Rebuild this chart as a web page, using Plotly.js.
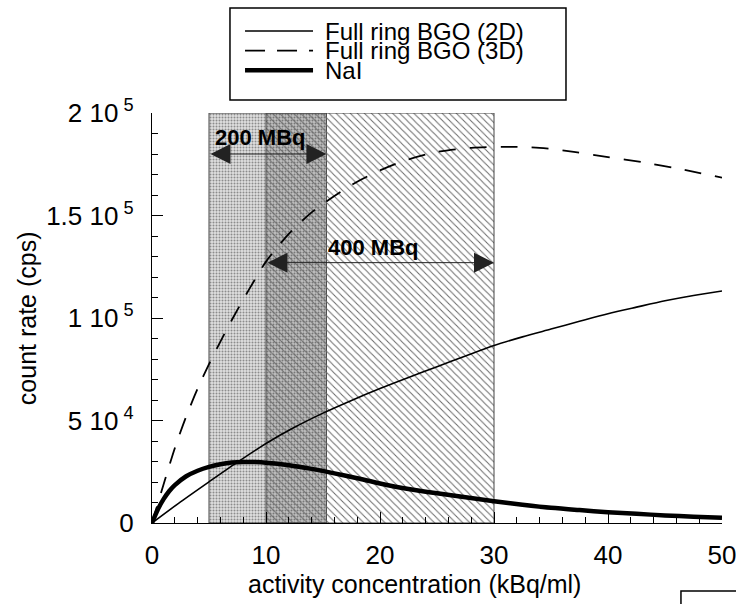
<!DOCTYPE html>
<html>
<head>
<meta charset="utf-8">
<script src="https://cdn.plot.ly/plotly-3.0.1.min.js"></script>
<style>html,body{margin:0;padding:0;background:#fff;}#chart{width:736px;height:604px;}</style>
</head>
<body>
<div id="chart"></div>
<script>
// ---- data ----
var seriesNames = ['Full ring BGO (2D)', 'Full ring BGO (3D)', 'NaI'];

var x2D = [0, 2.5, 5, 7.5, 10, 12.5, 15, 17.5, 20, 22.5, 25, 27.5, 30, 32.5, 35, 37.5, 40, 42.5, 45, 47.5, 50];
var y2D = [0, 10300, 20100, 29700, 38800, 46700, 53600, 59800, 65600, 71000, 76200, 81500, 86600, 90800, 94600, 98400, 102100, 105300, 108400, 111000, 113200];

var x3D = [0, 1, 2, 3, 4, 5, 6, 7, 8, 9, 10, 12, 14, 16, 18, 20, 22, 25, 28, 31, 34, 37, 40, 43, 46, 50];
var y3D = [0, 18500, 36500, 52000, 65500, 77500, 88500, 99000, 109000, 118500, 127500, 141000, 151500, 159500, 166500, 172000, 176500, 181000, 183000, 183500, 183000, 181000, 178500, 176000, 173000, 168500];

var xNaI = [0, 0.5, 1, 1.5, 2, 3, 4, 5, 6, 7, 8, 9, 10, 12, 14, 16, 18, 20, 22.5, 25, 27.5, 30, 32.5, 35, 37.5, 40, 42.5, 45, 47.5, 50];
var yNaI = [0, 6500, 11500, 15500, 18500, 22800, 25500, 27400, 28700, 29500, 29800, 29700, 29400, 28200, 26400, 24200, 21800, 19300, 16600, 14500, 12600, 10600, 8900, 7400, 6300, 5300, 4500, 3700, 3100, 2600];

var regionLabels = ['200 MBq', '400 MBq'];
var regionStart = [5, 10];
var regionEnd = [15.3, 30];

var yTickVals = [0, 50000, 100000, 150000, 200000];
var yTickText = ['0', '5 10<sup> 4</sup>', '1 10<sup> 5</sup>', '1.5 10<sup> 5</sup>', '2 10<sup> 5</sup>'];
var xTickVals = [0, 10, 20, 30, 40, 50];
var xTickText = ['0', '10', '20', '30', '40', '50'];

var xTitle = 'activity concentration (kBq/ml)';
var yTitle = 'count rate (cps)';

// ---- styles ----
var FONT = 'Liberation Sans, Arial, Helvetica, sans-serif';
var YMAX = 200000;
var lineStyles = [
  {color: '#000', width: 1.6, dash: 'solid'},
  {color: '#000', width: 1.8, dash: '17px,14px'},
  {color: '#000', width: 4.5, dash: 'solid'}
];

function rectTrace(x0, x1, extra) {
  var t = {
    type: 'scatter', mode: 'lines',
    x: [x0, x1, x1, x0, x0], y: [0, 0, YMAX, YMAX, 0],
    fill: 'toself', hoverinfo: 'skip', showlegend: false
  };
  for (var k in extra) t[k] = extra[k];
  return t;
}

var ovStart = Math.max(regionStart[0], regionStart[1]);
var ovEnd = Math.min(regionEnd[0], regionEnd[1]);

var traces = [
  rectTrace(regionStart[0], regionEnd[0], {
    fillcolor: '#d8d8d8',
    fillpattern: {shape: '.', fgcolor: '#8c8c8c', bgcolor: '#e0e0e0', size: 3, solidity: 0.35},
    line: {color: '#444', width: 1}
  }),
  rectTrace(ovStart, ovEnd, {
    fillcolor: 'rgba(0,0,0,0.14)',
    line: {color: 'rgba(0,0,0,0)', width: 0}
  }),
  rectTrace(regionStart[1], regionEnd[1], {
    fillcolor: 'rgba(0,0,0,0)',
    fillpattern: {shape: '\\', fgcolor: '#6a6a6a', bgcolor: 'rgba(255,255,255,0)', size: 5, solidity: 0.2},
    line: {color: '#444', width: 1}
  })
];

var sx = [x2D, x3D, xNaI], sy = [y2D, y3D, yNaI];
for (var i = 0; i < 3; i++) {
  traces.push({
    type: 'scatter', mode: 'lines', name: seriesNames[i],
    x: sx[i], y: sy[i],
    line: {color: lineStyles[i].color, width: lineStyles[i].width, dash: lineStyles[i].dash, shape: 'spline', smoothing: 0.8},
    showlegend: false, hoverinfo: 'skip'
  });
}

// ---- annotations ----
var arrowY = [180000, 127000];
var labelY = [188000, 134500];
var labelX = [5.35, 15.3];
var annotations = [];
for (var r = 0; r < 2; r++) {
  annotations.push({
    x: regionEnd[r], y: arrowY[r], ax: regionStart[r], ay: arrowY[r],
    xref: 'x', yref: 'y', axref: 'x', ayref: 'y',
    text: '', showarrow: true, arrowside: 'end+start',
    arrowhead: 2, startarrowhead: 2, arrowsize: 4, startarrowsize: 4,
    arrowwidth: 1, arrowcolor: '#222', standoff: 0, startstandoff: 0
  });
  annotations.push({
    x: labelX[r], y: labelY[r], xref: 'x', yref: 'y', xanchor: 'left', yanchor: 'middle',
    text: '<b>' + regionLabels[r] + '</b>', showarrow: false,
    font: {family: FONT, size: 22, color: '#000'}
  });
}
// axis titles
annotations.push({
  x: 0.4605, y: -0.148, xref: 'paper', yref: 'paper', xanchor: 'center', yanchor: 'middle',
  text: xTitle, showarrow: false, font: {family: FONT, size: 25, color: '#000'}
});
annotations.push({
  x: -0.219, y: 0.5, xref: 'paper', yref: 'paper', xanchor: 'center', yanchor: 'middle',
  text: yTitle, textangle: -90, showarrow: false, font: {family: FONT, size: 25, color: '#000'}
});

// ---- manual legend ----
var shapes = [
  {type: 'rect', xref: 'paper', yref: 'paper', x0: 0.1368, x1: 0.7263, y0: 1.0317, y1: 1.2561,
   line: {color: '#000', width: 1.5}, fillcolor: '#fff', layer: 'above'},
  // fragment of box at bottom right
  {type: 'rect', xref: 'paper', yref: 'paper', x0: 0.928, x1: 1.1, y0: -0.3, y1: -0.166,
   line: {color: '#000', width: 1.5}, fillcolor: 'rgba(0,0,0,0)'}
];
var legRows = [1.2, 1.152, 1.104];
for (var j = 0; j < 3; j++) {
  shapes.push({type: 'line', xref: 'paper', yref: 'paper', x0: 0.1632, x1: 0.2825, y0: legRows[j], y1: legRows[j],
    line: {color: lineStyles[j].color, width: lineStyles[j].width, dash: j === 1 ? '20px,12px' : 'solid'}, layer: 'above'});
  annotations.push({x: 0.3, y: legRows[j], xref: 'paper', yref: 'paper', xanchor: 'left', yanchor: 'middle',
    text: seriesNames[j], showarrow: false, font: {family: FONT, size: 24, color: '#000'}});
}

var layout = {
  width: 736, height: 604,
  margin: {l: 152, r: 14, t: 113, b: 81, pad: 0},
  paper_bgcolor: '#fff', plot_bgcolor: '#fff',
  font: {family: FONT, size: 26, color: '#000'},
  showlegend: false,
  xaxis: {
    range: [0, 50], tickvals: xTickVals, ticktext: xTickText,
    ticks: 'inside', ticklen: 11, tickwidth: 1, tickcolor: '#000',
    minor: {dtick: 2, ticks: 'inside', ticklen: 6, tickwidth: 1, tickcolor: '#000', showgrid: false},
    showline: true, linecolor: '#000', linewidth: 1.2, showgrid: false, zeroline: false,
    tickfont: {family: FONT, size: 26, color: '#000'}, ticklabelstandoff: 9,
    ticklabeloverflow: 'allow', fixedrange: true
  },
  yaxis: {
    range: [0, YMAX], tickvals: yTickVals, ticktext: yTickText,
    ticks: 'inside', ticklen: 11, tickwidth: 1, tickcolor: '#000',
    minor: {dtick: 10000, tick0: 0, ticks: 'inside', ticklen: 6, tickwidth: 1, tickcolor: '#000', showgrid: false},
    showline: true, linecolor: '#000', linewidth: 1.2, showgrid: false, zeroline: false,
    tickfont: {family: FONT, size: 26, color: '#000'}, ticklabelstandoff: 12,
    ticklabeloverflow: 'allow', fixedrange: true
  },
  annotations: annotations,
  shapes: shapes
};

Plotly.newPlot('chart', traces, layout, {displayModeBar: false, staticPlot: true});
</script>
</body>
</html>
